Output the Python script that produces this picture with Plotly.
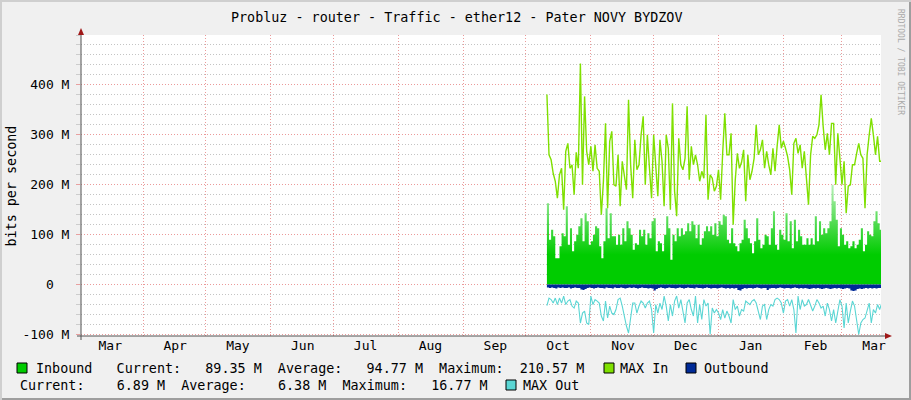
import pandas as pd
import plotly.graph_objects as go

# ---------------- data (values in M bits/s, one value per day from 2013-10-11) -----------
START_DAY = "2013-10-11"

MAX_IN = [381, 260, 250, 223, 207, 173, 220, 233, 150, 267, 283, 233, 240, 180, 265, 233, 443, 200, 377, 267,
          240, 277, 227, 280, 233, 227, 140, 207, 323, 153, 287, 307, 200, 197, 260, 157, 247, 220, 190, 370,
          240, 173, 290, 230, 240, 300, 337, 200, 300, 233, 173, 300, 240, 177, 290, 247, 157, 300, 273, 150,
          363, 187, 137, 293, 240, 230, 253, 357, 210, 277, 240, 260, 240, 207, 227, 213, 340, 170, 220, 213,
          187, 197, 230, 170, 265, 343, 260, 260, 303, 120, 210, 263, 233, 245, 270, 167, 260, 210, 227, 253,
          320, 260, 270, 290, 233, 267, 240, 220, 273, 227, 277, 320, 273, 287, 273, 257, 230, 180, 283, 293,
          263, 280, 233, 267, 213, 160, 260, 297, 293, 300, 320, 380, 317, 270, 303, 260, 323, 323, 200, 303,
          253, 200, 247, 143, 197, 200, 240, 240, 263, 283, 260, 253, 153, 260, 300, 333, 300, 260, 297, 247,
          247]

INBOUND = [163, 90, 110, 97, 53, 53, 77, 103, 97, 157, 80, 113, 67, 87, 100, 117, 133, 87, 143, 127,
           80, 87, 100, 117, 113, 77, 53, 87, 153, 93, 143, 97, 97, 80, 100, 80, 113, 87, 127, 113,
           100, 70, 83, 80, 110, 97, 110, 80, 103, 93, 127, 133, 67, 87, 83, 67, 100, 137, 113, 50,
           100, 87, 113, 97, 113, 100, 107, 123, 107, 127, 120, 93, 120, 80, 93, 107, 117, 107, 117, 100,
           123, 97, 127, 120, 140, 137, 90, 83, 113, 83, 77, 67, 83, 90, 130, 113, 93, 83, 63, 87,
           133, 90, 73, 80, 100, 97, 80, 113, 147, 80, 70, 110, 100, 90, 143, 87, 127, 73, 130, 87,
           110, 97, 80, 80, 93, 80, 93, 80, 137, 87, 127, 100, 113, 103, 113, 127, 200, 167, 130, 77,
           113, 100, 80, 87, 73, 77, 87, 73, 80, 90, 113, 67, 80, 107, 100, 97, 127, 147, 123, 110,
           89.35]

OUTBOUND = [6, 7, 6, 7, 8, 6, 7, 6, 7, 7, 6, 8, 7, 6, 7, 7, 10, 11, 9, 7,
            6, 7, 8, 7, 6, 7, 7, 8, 6, 7, 7, 8, 6, 7, 7, 6, 7, 8, 7, 6,
            7, 6, 7, 8, 7, 6, 7, 7, 8, 7, 8, 12, 9, 7, 6, 7, 8, 7, 6, 7,
            7, 8, 7, 6, 7, 8, 7, 6, 7, 7, 8, 6, 7, 7, 8, 7, 6, 7, 8, 7,
            7, 8, 7, 6, 7, 8, 7, 8, 7, 8, 7, 11, 12, 9, 7, 8, 7, 7, 8, 7,
            6, 7, 8, 7, 7, 11, 8, 7, 7, 8, 7, 6, 7, 8, 7, 7, 8, 7, 6, 7,
            8, 7, 8, 7, 8, 9, 8, 7, 8, 7, 8, 9, 8, 7, 8, 9, 8, 7, 8, 7,
            8, 9, 8, 7, 8, 12, 13, 12, 9, 8, 9, 8, 7, 8, 7, 8, 7, 8, 7, 7,
            6.89]

MAX_OUT = [42, 27, 30, 37, 27, 40, 27, 37, 23, 40, 33, 30, 43, 47, 33, 37, 77, 57, 53, 77,
           80, 23, 40, 30, 33, 37, 63, 73, 33, 67, 43, 57, 60, 50, 30, 27, 43, 67, 83, 97,
           70, 37, 37, 57, 43, 33, 37, 47, 37, 33, 50, 97, 40, 57, 37, 50, 23, 43, 73, 40,
           63, 33, 23, 47, 30, 50, 77, 37, 30, 50, 63, 23, 77, 40, 70, 30, 43, 37, 100, 47,
           57, 50, 57, 70, 50, 67, 53, 63, 77, 30, 50, 43, 63, 50, 53, 33, 37, 40, 33, 30,
           37, 57, 70, 43, 40, 70, 50, 40, 43, 30, 27, 30, 37, 57, 33, 30, 43, 30, 50, 97,
           23, 50, 30, 43, 40, 30, 40, 53, 43, 30, 37, 47, 43, 63, 37, 50, 73, 50, 77, 57,
           30, 43, 87, 37, 77, 53, 33, 43, 70, 100, 77, 70, 67, 50, 37, 77, 50, 57, 40, 50,
           37]

MONTH_LABELS = ["Mar", "Apr", "May", "Jun", "Jul", "Aug", "Sep", "Oct", "Nov", "Dec", "Jan", "Feb", "Mar"]
MONTH_STARTS = pd.date_range("2013-03-01", periods=len(MONTH_LABELS), freq="MS")
Y_TICKS = [-100, 0, 100, 200, 300, 400]
Y_LABELS = ["-100 M", "0\u00a0\u00a0", "100 M", "200 M", "300 M", "400 M"]

TITLE = "Probluz - router - Traffic - ether12 - Pater NOVY BYDZOV"
LEG1 = "Inbound   Current:   89.35 M  Average:   94.77 M  Maximum:  210.57 M"
LEG2 = "Current:    6.89 M  Average:    6.38 M  Maximum:   16.77 M"

M = 1e6


def days(vals):
    return pd.date_range(START_DAY, periods=len(vals), freq="D")


# ---------------- figure -----------------
W, H = 911, 400
L, R, T, B = 81, 30, 35, 64
PW, PH = W - L - R, H - T - B


def px(x):
    return (x - L) / PW


def py(y):
    return (H - B - y) / PH


FONT = "DejaVu Sans Mono"
GREEN = "#00cc00"
LIME = "#7fe000"
BLUE = "#002a97"
CYAN = "#5ad6d4"

fig = go.Figure()
fig.add_trace(go.Scatter(
    x=days(INBOUND), y=[v * M for v in INBOUND], mode="lines", line=dict(width=0, shape="hv", color=GREEN),
    fill="tozeroy",
    fillgradient=dict(type="vertical", start=0, stop=200 * M,
                      colorscale=[[0, GREEN], [0.3, GREEN], [0.55, "#3fd83f"], [1, "#b8f0b8"]]),
    hoverinfo="skip"))
fig.add_trace(go.Scatter(
    x=days(MAX_IN), y=[v * M for v in MAX_IN], mode="lines",
    line=dict(width=1.4, color=LIME), hoverinfo="skip"))
fig.add_trace(go.Scatter(
    x=days(OUTBOUND), y=[-v * M for v in OUTBOUND], mode="lines",
    line=dict(width=0, shape="hv", color=BLUE), fill="tozeroy", fillcolor=BLUE, hoverinfo="skip"))
fig.add_trace(go.Scatter(
    x=days(MAX_OUT), y=[-v * M for v in MAX_OUT], mode="lines",
    line=dict(width=1.1, color=CYAN), hoverinfo="skip"))

tick_pos = [d + pd.Timedelta(days=15, hours=8) for d in MONTH_STARTS]

fig.update_xaxes(
    type="date", range=["2013-03-02 08:40", "2014-03-19 15:20"],
    tickmode="array", tickvals=tick_pos, ticktext=MONTH_LABELS, showgrid=False, ticks="",
    tickfont=dict(family=FONT, size=13, color="#000"), zeroline=False, showline=False,
    minor=dict(tickmode="array", tickvals=list(MONTH_STARTS), showgrid=True,
               gridcolor="#eb9a9a", griddash="1px,2px", gridwidth=1, ticks=""),
    fixedrange=True)
fig.update_yaxes(
    range=[-103 * M, 500 * M], tickmode="array", tickvals=[v * M for v in Y_TICKS], ticktext=Y_LABELS,
    showgrid=True, gridcolor="#eb9a9a", griddash="1px,2px", gridwidth=1,
    ticks="outside", ticklen=4, tickcolor="#e8a0a0", ticklabelstandoff=4,
    tickfont=dict(family=FONT, size=13, color="#000"), zeroline=False, showline=False,
    minor=dict(dtick=20 * M, tick0=0, showgrid=True, gridcolor="#c4c4c4", griddash="1px,2px",
               gridwidth=1, ticks="outside", ticklen=4, tickcolor="#cccccc"),
    fixedrange=True)

shapes = []
# axes lines and arrows
shapes.append(dict(type="line", xref="paper", yref="paper", x0=px(81), x1=px(81), y0=py(340), y1=py(32),
                   line=dict(color="#505050", width=1), layer="above"))
shapes.append(dict(type="line", xref="paper", yref="paper", x0=px(77), x1=px(886), y0=py(336), y1=py(336),
                   line=dict(color="#505050", width=1), layer="above"))
shapes.append(dict(type="path", xref="paper", yref="paper",
                   path=f"M {px(78)} {py(35)} L {px(84)} {py(35)} L {px(81)} {py(28)} Z",
                   fillcolor="#a01818", line=dict(width=0), layer="above"))
shapes.append(dict(type="path", xref="paper", yref="paper",
                   path=f"M {px(885)} {py(333)} L {px(885)} {py(339)} L {px(892)} {py(336)} Z",
                   fillcolor="#a01818", line=dict(width=0), layer="above"))
# frame shading
shapes.append(dict(type="rect", xref="paper", yref="paper", x0=px(0), x1=px(911), y0=py(400), y1=py(398),
                   fillcolor="#9e9e9e", line=dict(width=0), layer="above"))
shapes.append(dict(type="rect", xref="paper", yref="paper", x0=px(909), x1=px(911), y0=py(400), y1=py(0),
                   fillcolor="#9e9e9e", line=dict(width=0), layer="above"))
shapes.append(dict(type="rect", xref="paper", yref="paper", x0=px(0), x1=px(911), y0=py(2), y1=py(0),
                   fillcolor="#cfcfcf", line=dict(width=0), layer="above"))
shapes.append(dict(type="rect", xref="paper", yref="paper", x0=px(0), x1=px(2), y0=py(400), y1=py(0),
                   fillcolor="#cfcfcf", line=dict(width=0), layer="above"))


def swatch(x0, yc, color):
    return dict(type="rect", xref="paper", yref="paper", x0=px(x0), x1=px(x0 + 10), y0=py(yc + 5), y1=py(yc - 5),
                fillcolor=color, line=dict(color="#000", width=1), layer="above")


shapes += [swatch(17, 368, GREEN), swatch(604, 368, LIME), swatch(686, 368, BLUE), swatch(506, 385, CYAN)]
fig.update_layout(shapes=shapes)


def nb(s):
    return s.replace(" ", "\u00a0")


def ann(text, x, y, size=13.4, xanchor="left", color="#000", angle=0):
    return dict(text=nb(text), x=px(x), y=py(y), xref="paper", yref="paper", showarrow=False,
                xanchor=xanchor, yanchor="middle", textangle=angle,
                font=dict(family=FONT, size=size, color=color))


fig.update_layout(annotations=[
    ann(TITLE, 456, 17, xanchor="center"),
    ann("bits per second", 10.5, 186, xanchor="center", angle=-90),
    ann("RRDTOOL / TOBI OETIKER", 901, 62, size=8, xanchor="center", color="#aaaaaa", angle=90),
    ann(LEG1, 34, 368),
    ann("MAX In", 618, 368),
    ann("Outbound", 702, 368),
    ann(LEG2, 18, 385),
    ann("MAX Out", 521, 385),
])

fig.update_layout(
    width=W, height=H, margin=dict(l=L, r=R, t=T, b=B, pad=0),
    paper_bgcolor="#f0f0f0", plot_bgcolor="#ffffff", showlegend=False,
    font=dict(family=FONT, size=13, color="#000"),
)

fig.write_html("out.html", config={"displayModeBar": False, "staticPlot": True},
               post_script="document.body.style.margin='0';document.body.style.overflow='hidden';")
